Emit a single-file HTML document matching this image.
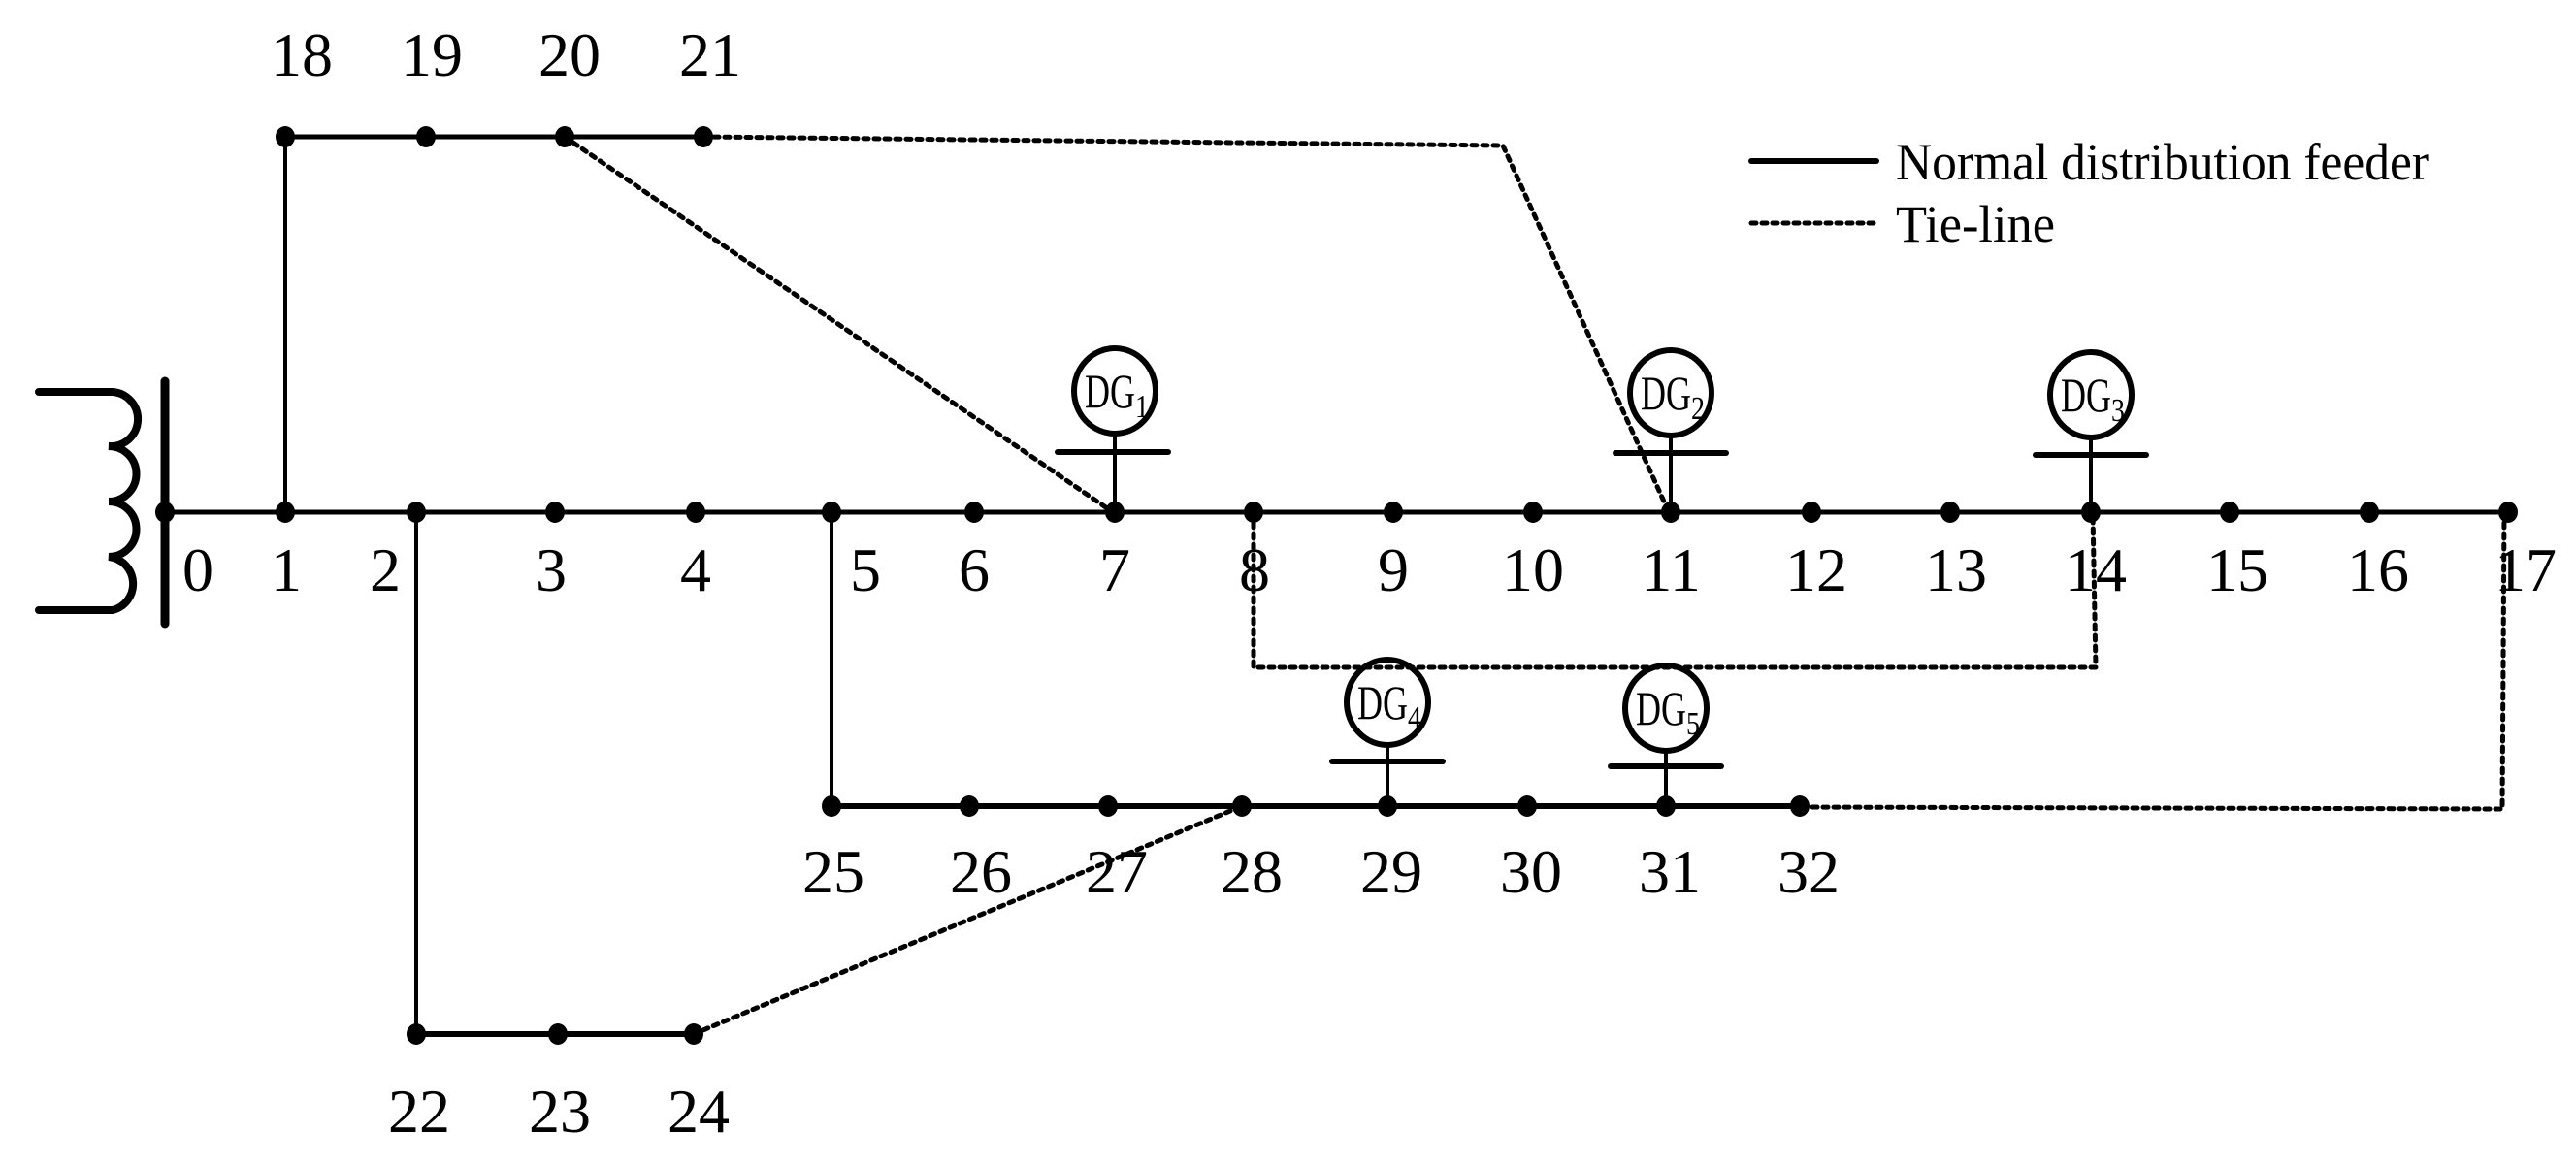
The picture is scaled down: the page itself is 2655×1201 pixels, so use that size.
<!DOCTYPE html>
<html><head><meta charset="utf-8"><style>
html,body{margin:0;padding:0;background:#fff;}
svg{display:block;}
text{font-family:"Liberation Serif",serif;fill:#000;}
</style></head><body>
<svg width="2655" height="1201" viewBox="0 0 2655 1201" xmlns="http://www.w3.org/2000/svg">
<g stroke="#000" fill="none" stroke-linecap="round">
<!-- transformer -->
<line x1="170" y1="393" x2="170" y2="643" stroke-width="9"/>
<path d="M40 404 H116 A28 28 0 0 1 112 460 A28 28 0 0 1 112 517 A28 28 0 0 1 112 574 A28 28 0 0 1 116 629 H40" stroke-width="8"/>
<!-- solid feeders -->
<line x1="170" y1="528" x2="2585" y2="528" stroke-width="5"/>
<line x1="294" y1="141" x2="725" y2="141" stroke-width="5"/>
<line x1="294" y1="141" x2="294" y2="528" stroke-width="4"/>
<line x1="429" y1="528" x2="429" y2="1066" stroke-width="4"/>
<line x1="429" y1="1066" x2="715" y2="1066" stroke-width="6"/>
<line x1="857" y1="528" x2="857" y2="831" stroke-width="4"/>
<line x1="857" y1="831" x2="1855" y2="831" stroke-width="6"/>
<!-- tie lines -->
<g stroke-width="5" stroke-dasharray="5 6">
<polyline points="725,141 1549,150 1720,528"/>
<line x1="582" y1="141" x2="1147" y2="528"/>
<polyline points="1292,528 1292,688 2160,688 2157,528"/>
<polyline points="2581,528 2579,834 1855,832"/>
<line x1="715" y1="1066" x2="1280" y2="831"/>
<line x1="1805" y1="230" x2="1935" y2="230"/>
</g>
<line x1="1805" y1="166" x2="1934" y2="166" stroke-width="6"/>
<!-- DGs -->
<g stroke-width="6">
<ellipse cx="1149" cy="403" rx="42" ry="44"/>
<ellipse cx="1722" cy="405" rx="42" ry="44"/>
<ellipse cx="2155" cy="407" rx="42" ry="44"/>
<ellipse cx="1430" cy="724" rx="42" ry="44"/>
<ellipse cx="1717" cy="730" rx="42" ry="44"/>
<line x1="1090" y1="466" x2="1204" y2="466"/>
<line x1="1665" y1="467" x2="1779" y2="467"/>
<line x1="2098" y1="469" x2="2212" y2="469"/>
<line x1="1373" y1="785" x2="1487" y2="785"/>
<line x1="1660" y1="790" x2="1774" y2="790"/>
</g>
<g stroke-width="4">
<line x1="1149" y1="447" x2="1149" y2="528"/>
<line x1="1722" y1="449" x2="1722" y2="528"/>
<line x1="2155" y1="451" x2="2155" y2="528"/>
<line x1="1430" y1="768" x2="1430" y2="831"/>
<line x1="1717" y1="774" x2="1717" y2="831"/>
</g>
</g>
<!-- dots -->
<g fill="#000">
<ellipse cx="170" cy="528" rx="10" ry="11"/>
<ellipse cx="294" cy="528" rx="10" ry="11"/><ellipse cx="429" cy="528" rx="10" ry="11"/>
<ellipse cx="572" cy="528" rx="10" ry="11"/><ellipse cx="717" cy="528" rx="10" ry="11"/>
<ellipse cx="857" cy="528" rx="10" ry="11"/><ellipse cx="1004" cy="528" rx="10" ry="11"/>
<ellipse cx="1149" cy="528" rx="10" ry="11"/><ellipse cx="1292" cy="528" rx="10" ry="11"/>
<ellipse cx="1436" cy="528" rx="10" ry="11"/><ellipse cx="1580" cy="528" rx="10" ry="11"/>
<ellipse cx="1722" cy="528" rx="10" ry="11"/><ellipse cx="1867" cy="528" rx="10" ry="11"/>
<ellipse cx="2010" cy="528" rx="10" ry="11"/><ellipse cx="2155" cy="528" rx="10" ry="11"/>
<ellipse cx="2298" cy="528" rx="10" ry="11"/><ellipse cx="2442" cy="528" rx="10" ry="11"/>
<ellipse cx="2585" cy="528" rx="10" ry="11"/>
<ellipse cx="294" cy="141" rx="10" ry="11"/><ellipse cx="439" cy="141" rx="10" ry="11"/>
<ellipse cx="582" cy="141" rx="10" ry="11"/><ellipse cx="725" cy="141" rx="10" ry="11"/>
<ellipse cx="857" cy="831" rx="10" ry="11"/><ellipse cx="999" cy="831" rx="10" ry="11"/>
<ellipse cx="1142" cy="831" rx="10" ry="11"/><ellipse cx="1280" cy="831" rx="10" ry="11"/>
<ellipse cx="1430" cy="831" rx="10" ry="11"/><ellipse cx="1574" cy="831" rx="10" ry="11"/>
<ellipse cx="1717" cy="831" rx="10" ry="11"/><ellipse cx="1855" cy="831" rx="10" ry="11"/>
<ellipse cx="429" cy="1066" rx="10" ry="11"/><ellipse cx="575" cy="1066" rx="10" ry="11"/>
<ellipse cx="715" cy="1066" rx="10" ry="11"/>
</g>
<!-- labels -->
<g font-size="64" text-anchor="middle">
<text x="311" y="78">18</text><text x="445" y="78">19</text><text x="587" y="78">20</text><text x="732" y="78">21</text>
<text x="204" y="609">0</text><text x="295" y="609">1</text><text x="397" y="609">2</text>
<text x="568" y="609">3</text><text x="717" y="609">4</text><text x="892" y="609">5</text>
<text x="1004" y="609">6</text><text x="1149" y="609">7</text><text x="1293" y="609">8</text>
<text x="1436" y="609">9</text><text x="1580" y="609">10</text><text x="1722" y="609">11</text>
<text x="1872" y="609">12</text><text x="2016" y="609">13</text><text x="2160" y="609">14</text>
<text x="2306" y="609">15</text><text x="2451" y="609">16</text><text x="2603" y="609">17</text>
<text x="859" y="920">25</text><text x="1011" y="920">26</text><text x="1151" y="920">27</text>
<text x="1290" y="920">28</text><text x="1434" y="920">29</text><text x="1578" y="920">30</text>
<text x="1721" y="920">31</text><text x="1864" y="920">32</text>
<text x="432" y="1167">22</text><text x="577" y="1167">23</text><text x="720" y="1167">24</text>
</g>
<g font-size="50">
<text x="1118" y="420" textLength="52" lengthAdjust="spacingAndGlyphs">DG</text><text x="1170" y="430" font-size="34" textLength="14" lengthAdjust="spacingAndGlyphs">1</text>
<text x="1691" y="422" textLength="52" lengthAdjust="spacingAndGlyphs">DG</text><text x="1743" y="432" font-size="34" textLength="14" lengthAdjust="spacingAndGlyphs">2</text>
<text x="2124" y="424" textLength="52" lengthAdjust="spacingAndGlyphs">DG</text><text x="2176" y="434" font-size="34" textLength="14" lengthAdjust="spacingAndGlyphs">3</text>
<text x="1399" y="741" textLength="52" lengthAdjust="spacingAndGlyphs">DG</text><text x="1451" y="751" font-size="34" textLength="14" lengthAdjust="spacingAndGlyphs">4</text>
<text x="1686" y="747" textLength="52" lengthAdjust="spacingAndGlyphs">DG</text><text x="1738" y="757" font-size="34" textLength="14" lengthAdjust="spacingAndGlyphs">5</text>
</g>
<text x="1954" y="185" font-size="54" textLength="549" lengthAdjust="spacingAndGlyphs">Normal distribution feeder</text>
<text x="1954" y="249" font-size="54" textLength="164" lengthAdjust="spacingAndGlyphs">Tie-line</text>
</svg>
</body></html>
